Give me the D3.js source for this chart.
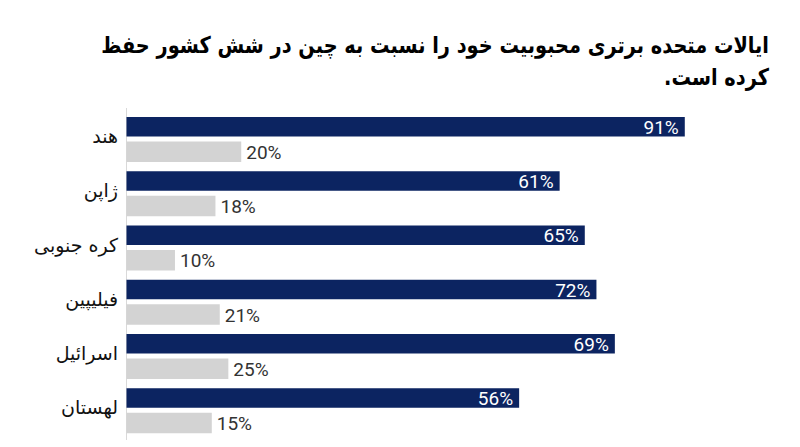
<!DOCTYPE html>
<html>
<head>
<meta charset="utf-8">
<script src="https://cdn.jsdelivr.net/npm/d3@7"></script>
<style>
  body { margin: 0; background: #fff; }
  svg { display: block; }
</style>
</head>
<body>
<div class="chart"></div>
<script>
//Data
const countries = ['هند', 'ژاپن', 'کره جنوبی', 'فیلیپین', 'اسرائیل', 'لهستان'];
const usValues = [91, 61, 65, 72, 69, 56];
const chinaValues = [20, 18, 10, 21, 25, 15];
//bar lengths as drawn in the picture (not proportional to the labels)
const usLengths = [91, 70.6, 74.7, 76.6, 79.6, 64.0];
const chinaLengths = [18.7, 14.5, 7.9, 15.2, 16.6, 13.9];
const titleLines = ['ایالات متحده برتری محبوبیت خود را نسبت به چین در شش کشور حفظ', 'کرده است.'];

const WIDTH = 800;
const HEIGHT = 447;
const LEFT = 126.5;
const TITLE_RIGHT = 769;
const TITLE_WIDTH = 668;

let svg = d3.select('.chart')
.append('svg')
.attr('width', WIDTH)
.attr('height', HEIGHT);

//Scales
const xScale = d3.scaleLinear().domain([0, 100]).range([LEFT, 740]);
const yScale = d3.scaleBand().domain(countries).range([114.5, 440]);

//Title - squeeze horizontally so the first line fits the same width as the original
let titles = svg.selectAll('.title')
.data(titleLines)
.enter()
.append('text')
.attr('class', 'title')
.attr('direction', 'rtl')
.attr('text-anchor', 'start')
.style('font-family', 'DejaVu Sans')
.style('font-weight', 'bold')
.style('font-size', '23px')
.style('fill', '#000')
.text(d => d);

const firstLen = titles.nodes()[0].getComputedTextLength();
const squeeze = TITLE_WIDTH / firstLen;
titles.attr('transform', (d, i) => `translate(${TITLE_RIGHT},${53 + i * 32}) scale(${squeeze},1)`);

//Axis line
svg.append('line')
.attr('x1', LEFT)
.attr('x2', LEFT)
.attr('y1', 108)
.attr('y2', 440)
.style('stroke', '#d9d9d9')
.style('stroke-width', 1);

let groups = svg.selectAll('.group')
.data(countries)
.enter()
.append('g')
.attr('class', 'group')
.attr('transform', d => `translate(0,${yScale(d)})`);

//US bars
groups.append('rect')
.attr('x', xScale(0))
.attr('y', 2.5)
.attr('height', 19.5)
.attr('width', (d, i) => xScale(usLengths[i]) - xScale(0))
.style('fill', '#0c2461');

groups.append('text')
.attr('x', (d, i) => xScale(usLengths[i]) - 6)
.attr('y', 12.5)
.attr('dy', '0.36em')
.attr('text-anchor', 'end')
.style('font-family', 'Roboto')
.style('font-size', '19px')
.style('fill', '#fff')
.text((d, i) => usValues[i] + '%');

//China bars
groups.append('rect')
.attr('x', xScale(0))
.attr('y', 27)
.attr('height', 20.5)
.attr('width', (d, i) => xScale(chinaLengths[i]) - xScale(0))
.style('fill', '#d3d3d3');

groups.append('text')
.attr('x', (d, i) => xScale(chinaLengths[i]) + 5)
.attr('y', 37.5)
.attr('dy', '0.36em')
.style('font-family', 'Roboto')
.style('font-size', '19px')
.style('fill', '#333')
.text((d, i) => chinaValues[i] + '%');

//Country labels
groups.append('text')
.attr('x', 118)
.attr('y', 23)
.attr('dy', '0.3em')
.attr('direction', 'rtl')
.attr('text-anchor', 'start')
.style('font-family', 'DejaVu Sans')
.style('font-size', '19px')
.style('fill', '#111')
.text(d => d);
</script>
</body>
</html>
